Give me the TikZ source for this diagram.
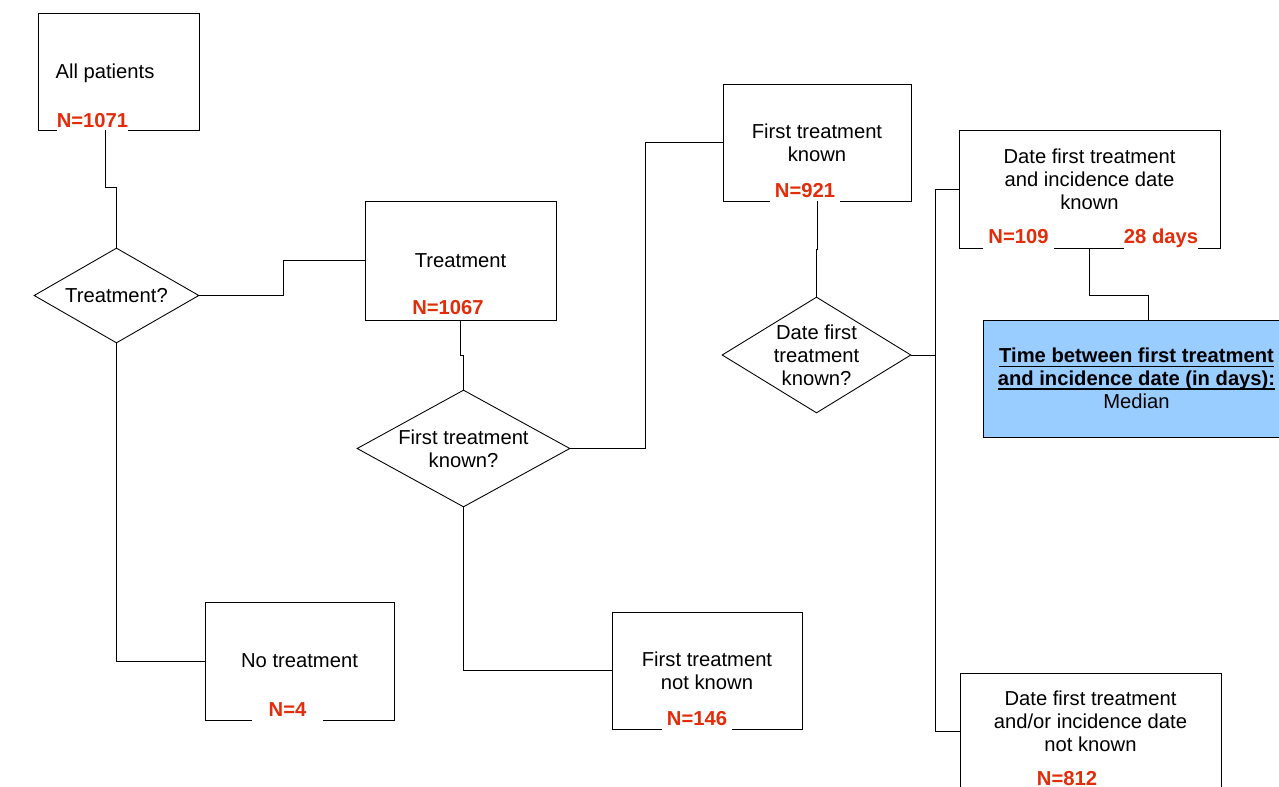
\documentclass[tikz,border=0pt]{standalone}
\usepackage{fontspec}
\setmainfont{Liberation Sans}
\usetikzlibrary{shapes.geometric}
\definecolor{nred}{RGB}{226,44,10}
\definecolor{medblue}{RGB}{153,204,255}
\newcommand{\thickul}[1]{\setbox0=\hbox{#1}\leavevmode\rlap{\rule[-2.6pt]{\wd0}{1.1pt}}\box0}

\begin{document}
\begin{tikzpicture}[x=0.02cm,y=-0.02cm,line width=0.5pt,
  every node/.style={font=\fontsize{11.5}{13}\selectfont},
  box/.style={draw,rectangle,inner sep=0pt,align=center},
  query/.style={draw,diamond,inner sep=0pt},
  nlab/.style={fill=white,text=nred,font=\fontsize{11.5}{13}\selectfont\bfseries,
    anchor=base,minimum width=1.42cm,inner xsep=0pt,inner ysep=3pt}]
  \clip (0,0) rectangle (1279,787);
  % All patients
  \node[box,minimum width=3.22cm,minimum height=2.34cm,
    label={[xshift=-0.27cm,yshift=-0.04cm]center:All patients}] (all) at (118.5,71.5) {};
  \node[nlab] (nall) at (92.5,128) {N=1071};
  % Treatment?
  \node[query,minimum width=3.3cm,minimum height=1.9cm,label=center:Treatment?] (q1) at (116.5,295.5) {};
  % Treatment
  \node[box,minimum width=3.82cm,minimum height=2.38cm] (treat) at (460.5,260.5) {Treatment};
  \node[nlab] (ntreat) at (448,315) {N=1067};
  % No treatment
  \node[box,minimum width=3.78cm,minimum height=2.36cm] (notreat) at (299.5,661) {No treatment};
  \node[nlab] (nnotreat) at (287.5,716) {N=4};
  % First treatment known?
  \node[query,minimum width=4.26cm,minimum height=2.34cm,
    label={[align=center]center:First treatment\\known?}] (q2) at (463.5,448.5) {};
  % First treatment known
  \node[box,minimum width=3.76cm,minimum height=2.34cm] (ftk) at (817,142.5) {First treatment\\known};
  \node[nlab] (nftk) at (805,198) {N=921};
  % First treatment not known
  \node[box,minimum width=3.8cm,minimum height=2.34cm] (ftnk) at (707,670.5) {First treatment\\not known};
  \node[nlab] (nftnk) at (697,725) {N=146};
  % Date first treatment known?
  \node[query,minimum width=3.78cm,minimum height=2.32cm,
    label={[align=center]center:Date first\\treatment\\known?}] (q3) at (816.5,355) {};
  % both dates known
  \node[box,minimum width=5.22cm,minimum height=2.36cm,
    label={[align=center,yshift=0.2cm]center:Date first treatment\\and incidence date\\known}] (dk) at (1089.5,189) {};
  \node[nlab] (ndk) at (1018.5,244) {N=109};
  \node[nlab] (days) at (1161,244) {28 days};
  % median
  \node[box,fill=medblue,minimum width=6.14cm,minimum height=2.34cm] (median) at (1136.5,378.5)
    {\thickul{\textbf{Time between first treatment}}\\\thickul{\textbf{and incidence date (in days):}}\\Median};
  % one of the dates not known
  \node[box,minimum width=5.22cm,minimum height=2.34cm,
    label={[align=center,yshift=0.2cm]center:Date first treatment\\and/or incidence date\\not known}] (dnk) at (1090.5,731.5) {};
  \node[nlab,inner ysep=0.5pt] (ndnk) at (1067,785) {N=812};
  % lines between the boxes
  \draw (all.south -| 105,0) -- (105,187) -| (q1.north);
  \draw (q1.east) -- (283,295.5) |- (treat.west);
  \draw (q1.south) |- (notreat.west);
  \draw (treat.south) -- (460.5,355) -| (q2.north);
  \draw (q2.east) -- (645,448.5) |- (ftk.west);
  \draw (q2.south) |- (ftnk.west);
  \draw (ftk.south) -- (817,249) -| (q3.north);
  \draw (q3.east) -- (q3.east -| 935,0);
  \draw (dk.west) -- (dk.west -| 935,0) -- (dnk.west -| 935,0) -- (dnk.west);
  \draw (dk.south) -- (1089.5,295) -| (median.north -| 1148,0);
\end{tikzpicture}
\end{document}
